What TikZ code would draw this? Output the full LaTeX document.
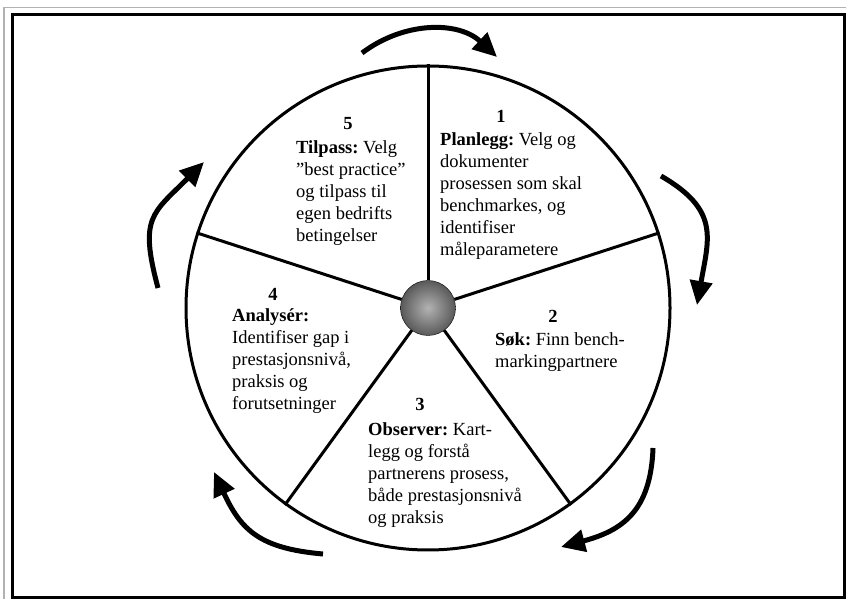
\documentclass[tikz,border=0pt]{standalone}
\usepackage{fontspec}
\setmainfont{Liberation Serif}
\usepackage{tikz}
\usetikzlibrary{arrows.meta}

\begin{document}
\begin{tikzpicture}[x=1pt,y=1pt,
		spoke/.style={line width=3pt},
		cyclearrow/.style={line width=5pt,-{Triangle[length=24pt,width=22pt]}},
		steptext/.style={font=\fontsize{18.5}{22}\selectfont\frenchspacing,align=left,inner sep=0pt,anchor=north west},
		stepnum/.style={font=\fontsize{18.5}{22}\selectfont\bfseries,inner sep=0pt}]
			\useasboundingbox (0,0) rectangle (846,599);
			
			\draw[gray!60,line width=1.2pt] (4,0) -- (4,591.5) -- (846,591.5);
			\draw[line width=3pt] (12,1.5) rectangle (844.5,584);
			
			\coordinate (C) at (428,291);
			
			\node[draw,circle,line width=3pt,inner sep=0pt,minimum size=484pt] (wheel) at (C) {};
			\node[draw,circle,thin,inner sep=0pt,minimum size=55pt,shading=radial,inner color=gray!60,outer color=black!65] (hub) at (C) {};
			
			\foreach \a in {90,18,-54,-126,162}
				\draw[spoke] (hub.\a) -- (wheel.\a);
			
			\node[stepnum] (n1) at (501,483) {1};
			\node[steptext] (t1) at (440,467) {\textbf{Planlegg:} Velg og\\dokumenter\\prosessen som skal\\benchmarkes, og\\identifiser\\måleparametere};
			
			\node[stepnum] (n2) at (553,283) {2};
			\node[steptext] (t2) at (495,267) {\textbf{Søk:} Finn bench-\\markingpartnere};
			
			\node[stepnum] (n3) at (420,195) {3};
			\node[steptext] (t3) at (368,177) {\textbf{Observer:} Kart-\\legg og forstå\\partnerens prosess,\\både prestasjonsnivå\\og praksis};
			
			\node[stepnum] (n4) at (273,305) {4};
			\node[steptext] (t4) at (232,291) {\textbf{Analysér:}\\Identifiser gap i\\prestasjonsnivå,\\praksis og\\forutsetninger};
			
			\node[stepnum] (n5) at (348,475) {5};
			\node[steptext] (t5) at (296,459) {\textbf{Tilpass:} Velg\\”best practice”\\og tilpass til\\egen bedrifts\\betingelser};
			
			% arrows round the wheel
			\coordinate (a1s) at (362,546);
			\coordinate (a1e) at (497,542);
			\coordinate (a2s) at (661,423);
			\coordinate (a2e) at (697,294);
			\coordinate (a3s) at (653,151);
			\coordinate (a3e) at (561,52);
			\coordinate (a4s) at (323,45);
			\coordinate (a4e) at (214,127);
			\coordinate (a5s) at (158,311);
			\coordinate (a5e) at (204,437);
			
			\draw[cyclearrow] (a1s) to[out=37,in=137] (a1e);
			\draw[cyclearrow] (a2s) to[out=-30,in=80,looseness=1.3] (a2e);
			\draw[cyclearrow] (a3s) to[out=-92,in=15,looseness=1.2] (a3e);
			\draw[cyclearrow] (a4s) to[out=175,in=-65,looseness=1.2] (a4e);
			\draw[cyclearrow] (a5s) to[out=105,in=-135,looseness=1.4] (a5e);
		\end{tikzpicture}
\end{document}
